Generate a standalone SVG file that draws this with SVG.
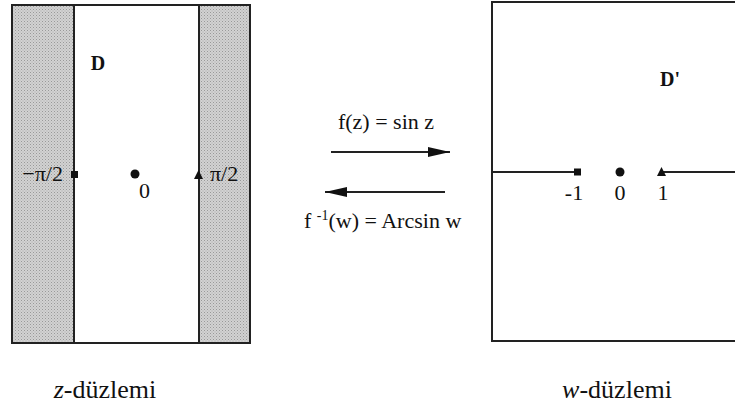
<svg xmlns="http://www.w3.org/2000/svg" width="735" height="414" viewBox="0 0 735 414">
<style>
text{font-family:'Liberation Serif','DejaVu Serif','Times New Roman',serif;fill:#111}
.t{font-size:22px}
.d{font-size:20px;font-weight:bold}
.cap{font-size:26px}
.edge{stroke:#222;stroke-width:2;fill:none}
.ln{stroke:#222;stroke-width:2}
</style>
<defs>
<pattern id="dots" width="3" height="3" patternUnits="userSpaceOnUse">
<rect width="3" height="3" fill="#d2d2d2"/>
<rect width="1" height="1" fill="#999"/>
<rect x="1.5" y="1.5" width="1" height="1" fill="#aaa"/>
</pattern>
<marker id="ahb" viewBox="0 0 22 10" refX="22" refY="5" markerWidth="22" markerHeight="10" markerUnits="userSpaceOnUse" orient="auto">
<path d="M0,0 L22,5 L0,10 z" fill="#111"/>
</marker>
</defs>
<g id="z-plane">
<rect x="12" y="5" width="62" height="338" fill="url(#dots)"/>
<rect x="199" y="5" width="51" height="338" fill="url(#dots)"/>
<rect x="12" y="5" width="238" height="338" class="edge"/>
<line x1="74" y1="5" x2="74" y2="343" class="ln"/>
<line x1="199" y1="5" x2="199" y2="343" class="ln"/>
<rect x="71" y="171" width="7" height="7" fill="#111"/>
<circle cx="135" cy="174" r="4.5" fill="#111"/>
<path d="M194,179 L198.5,170 L203,179 z" fill="#111"/>
<text x="98" y="70" class="d" text-anchor="middle">D</text>
<text x="63" y="181" class="t" text-anchor="end">−π/2</text>
<text x="210" y="181" class="t">π/2</text>
<text x="139" y="198" class="t">0</text>
</g>
<g id="w-plane">
<rect x="492" y="2" width="250" height="339" class="edge"/>
<line x1="492" y1="172" x2="577" y2="172" class="ln"/>
<line x1="662" y1="172" x2="735" y2="172" class="ln"/>
<rect x="574" y="168.5" width="7" height="7" fill="#111"/>
<circle cx="620" cy="172" r="4.5" fill="#111"/>
<path d="M657,176 L661.5,167 L666,176 z" fill="#111"/>
<text x="670" y="86" class="d" text-anchor="middle">D'</text>
<text x="574" y="200" class="t" text-anchor="middle">-1</text>
<text x="620" y="200" class="t" text-anchor="middle">0</text>
<text x="663" y="200" class="t" text-anchor="middle">1</text>
</g>
<g id="connectors">
<line x1="331" y1="152" x2="450" y2="152" class="ln" marker-end="url(#ahb)"/>
<line x1="445" y1="192" x2="325" y2="192" class="ln" marker-end="url(#ahb)"/>
</g>
<g id="labels">
<text x="386" y="129" class="t" text-anchor="middle">f(z) = sin z</text>
<text x="304" y="228" class="t">f <tspan dy="-8" font-size="14">-1</tspan><tspan dy="8">(w) = Arcsin w</tspan></text>
<text x="105" y="398" class="cap" text-anchor="middle"><tspan font-style="italic">z</tspan>-düzlemi</text>
<text x="617" y="398" class="cap" text-anchor="middle"><tspan font-style="italic">w</tspan>-düzlemi</text>
</g>
</svg>
